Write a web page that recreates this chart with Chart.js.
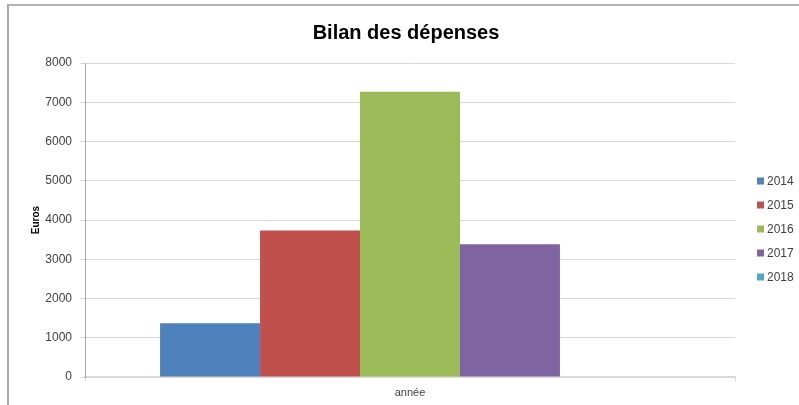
<!DOCTYPE html>
<html>
<head>
<meta charset="utf-8">
<script src="https://cdn.jsdelivr.net/npm/chart.js@4/dist/chart.umd.min.js"></script>
<style>
  html, body { margin: 0; padding: 0; background: #ffffff; }
  #wrap { position: relative; width: 799px; height: 405px; }
  #frame { position: absolute; left: 7px; top: 4px; width: 792px; height: 401px;
           border-top: 2px solid #b4b4b4; border-left: 2px solid #a9a9a9; box-sizing: border-box; pointer-events: none; }
</style>
</head>
<body>
<div id="wrap">
  <canvas id="c" width="799" height="405"></canvas>
  <div id="frame"></div>
</div>
<script>
const categories = ['année'];
const seriesLabels = ['2014', '2015', '2016', '2017', '2018'];
const values2014 = [1370];
const values2015 = [3730];
const values2016 = [7270];
const values2017 = [3380];
const values2018 = [0];
const seriesColors = ['#4F81BD', '#C0504D', '#9BBB59', '#8064A2', '#4BACC6'];
const yTicks = [0, 1000, 2000, 3000, 4000, 5000, 6000, 7000, 8000];

const seriesValues = [values2014, values2015, values2016, values2017, values2018];
const FONT = "'Liberation Sans', Arial, sans-serif";

const legendPlugin = {
  id: 'sideLegend',
  afterDraw(chart) {
    const ctx = chart.ctx;
    const area = chart.chartArea;
    ctx.save();
    ctx.font = '12px ' + FONT;
    ctx.textBaseline = 'middle';
    ctx.textAlign = 'left';
    chart.data.datasets.forEach((ds, i) => {
      const cy = 181 + i * 24;
      const x = area.right + 22;
      ctx.fillStyle = ds.backgroundColor;
      ctx.fillRect(x, cy - 3.5, 7, 7);
      ctx.fillStyle = '#404040';
      ctx.fillText(ds.label, x + 10, cy + 0.5);
    });
    ctx.restore();
  }
};

new Chart(document.getElementById('c'), {
  type: 'bar',
  data: {
    labels: categories,
    datasets: seriesLabels.map((lab, i) => ({
      label: lab,
      data: seriesValues[i],
      backgroundColor: seriesColors[i],
      borderWidth: 0,
      categoryPercentage: 0.769,
      barPercentage: 1.0
    }))
  },
  options: {
    responsive: false,
    animation: false,
    devicePixelRatio: 1,
    layout: { padding: { left: 13, right: 0, top: 0, bottom: 0 } },
    plugins: {
      legend: { display: false },
      tooltip: { enabled: false },
      title: {
        display: true,
        text: 'Bilan des dépenses',
        color: '#000000',
        font: { family: FONT, size: 20, weight: 'bold', lineHeight: 1.2 },
        padding: { top: 21, bottom: 18 }
      }
    },
    scales: {
      x: {
        offset: true,
        grid: { display: true, drawOnChartArea: false, offset: true, tickLength: 4, color: '#d9d9d9' },
        border: { color: '#d9d9d9', width: 2 },
        ticks: { color: '#404040', font: { family: FONT, size: 11 }, padding: 5 },
        afterFit(scale) { scale.height = 28; }
      },
      y: {
        min: 0,
        max: 8000,
        afterBuildTicks(scale) { scale.ticks = yTicks.map(v => ({ value: v })); },
        grid: { color: '#d9d9d9', tickLength: 5, lineWidth: 1 },
        border: { color: '#a6a6a6', width: 1 },
        ticks: { color: '#404040', font: { family: FONT, size: 12 }, padding: 8,
                 callback: (v) => String(v) },
        title: {
          display: true,
          text: 'Euros',
          color: '#000000',
          font: { family: FONT, size: 10, weight: 'bold' },
          padding: { top: 17, bottom: 0 }
        },
        afterFit(scale) { scale.width = 72; }
      },
      legendSpace: {
        type: 'linear',
        position: 'right',
        display: true,
        grid: { display: false, drawTicks: false },
        border: { display: false },
        ticks: { display: false },
        afterFit(scale) { scale.width = 64; }
      }
    }
  },
  plugins: [legendPlugin]
});
</script>
</body>
</html>
